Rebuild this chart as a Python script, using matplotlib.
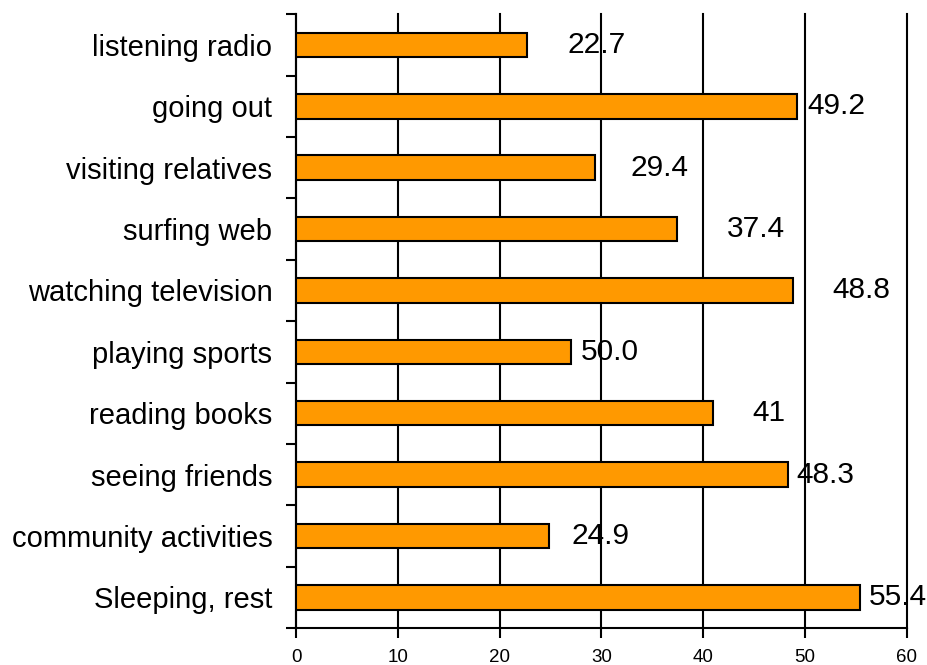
import numpy as np
import matplotlib
matplotlib.use('Agg')
import matplotlib.pyplot as plt

# data, top to bottom as in the chart
categories = ['listening radio', 'going out', 'visiting relatives', 'surfing web',
              'watching television', 'playing sports', 'reading books',
              'seeing friends', 'community activities', 'Sleeping, rest']
values = [22.7, 49.2, 29.4, 37.4, 48.8, 27.0, 41.0, 48.3, 24.9, 55.4]
value_labels = ['22.7', '49.2', '29.4', '37.4', '48.8', '50.0', '41', '48.3', '24.9', '55.4']
label_offsets = [4.0, 1.0, 3.5, 4.9, 3.9, 0.95, 3.8, 0.9, 2.2, 0.85]
x_ticks = [0, 10, 20, 30, 40, 50, 60]

plt.rcParams['font.family'] = ['Liberation Sans', 'DejaVu Sans']

fig = plt.figure(figsize=(9.28, 6.65), dpi=100)
ax = fig.add_axes([0.319, 0.0556, 0.658, 0.923])

y = np.arange(len(categories))[::-1]
ax.barh(y, values, height=0.4, color='#FF9900', edgecolor='black', linewidth=1.5, zorder=3)

for yi, v, lab, off in zip(y, values, value_labels, label_offsets):
    ax.text(v + off, yi, lab, fontsize=21.5, va='center', ha='left', zorder=4)

ax.set_xlim(0, 60)
ax.set_ylim(-0.5, len(categories) - 0.5)
ax.set_xticks(x_ticks)
ax.set_xticklabels([str(t) for t in x_ticks], fontsize=13.5)
ax.set_yticks(y)
ax.set_yticklabels(categories, fontsize=21)
ax.set_yticks(np.arange(-0.5, len(categories)), minor=True)
ax.tick_params(axis='y', which='major', length=0, pad=17)
ax.tick_params(axis='y', which='minor', length=7, width=1.5, direction='out')
ax.tick_params(axis='x', length=7, width=1.5, direction='out', pad=8)

ax.xaxis.grid(True, color='black', linewidth=1.5, zorder=0)
for line in ax.get_xgridlines():
    line.set_clip_on(False)
ax.set_axisbelow(True)
for s in ['top', 'right']:
    ax.spines[s].set_visible(False)
for s in ['left', 'bottom']:
    ax.spines[s].set_linewidth(1.5)

fig.savefig('out.png', dpi=100)
